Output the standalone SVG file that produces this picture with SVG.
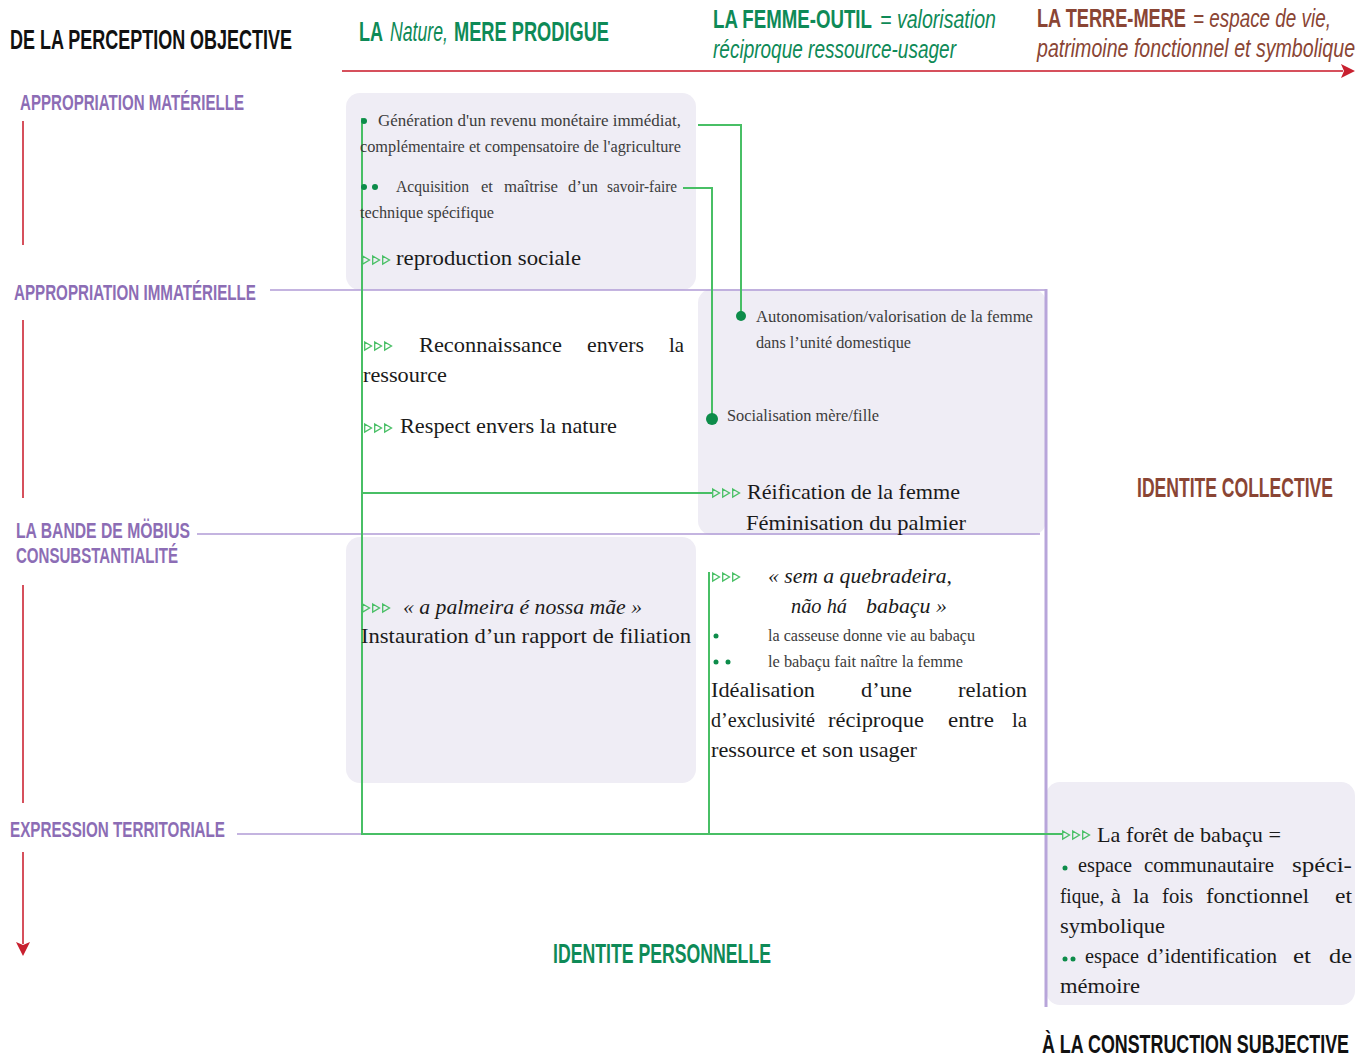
<svg xmlns="http://www.w3.org/2000/svg" width="1370" height="1059" viewBox="0 0 1370 1059">
<defs>
<style>
.hd{font-family:"Liberation Sans","DejaVu Sans",sans-serif;font-weight:bold}
.hi{font-family:"Liberation Sans","DejaVu Sans",sans-serif;font-style:italic}
.pu{fill:#8c6db5;font-size:22px}
.gr{fill:#0e8a57}
.br{fill:#8a4534}
.bk{fill:#111}
.sm{font-family:"Liberation Serif","DejaVu Serif",serif;font-size:17px;fill:#3c3c3c}
.bd{font-family:"Liberation Serif","DejaVu Serif",serif;font-size:21px;fill:#1a1a1a}
.it{font-style:italic}
.shade{fill:#efedf5}
.plin{stroke:#b09bd6;stroke-width:1.5;fill:none}
.rlin{stroke:#d6505c;stroke-width:2;fill:none}
.glin{stroke:#48bf65;stroke-width:2;fill:none}
.dot{fill:#0d8c4a}
</style>
<marker id="rarrow" viewBox="0 0 14 14" refX="2" refY="7" markerWidth="14" markerHeight="14" markerUnits="userSpaceOnUse" orient="auto">
<path d="M0,0 L14,7 L0,14 L3,7 Z" fill="#c8202f"/>
</marker>
<symbol id="tri3" viewBox="0 0 28 10" overflow="visible">
<path d="M0.7,1 L7.5,5 L0.7,9 Z M10.7,1 L17.5,5 L10.7,9 Z M20.7,1 L27.5,5 L20.7,9 Z" fill="none" stroke="#48bf65" stroke-width="1.3"/>
</symbol>
</defs>
<rect width="1370" height="1059" fill="#ffffff"/>

<g id="backgrounds">
<rect class="shade" x="346" y="93" width="350" height="197" rx="14"/>
<rect class="shade" x="698" y="289" width="348" height="246" rx="14"/>
<rect class="shade" x="346" y="537" width="350" height="246" rx="14"/>
<rect class="shade" x="1046" y="782" width="309" height="223" rx="14"/>
</g>

<g id="axes">
<line class="rlin" x1="342" y1="71" x2="1343" y2="71" marker-end="url(#rarrow)"/>
<line class="rlin" x1="23" y1="121" x2="23" y2="245"/>
<line class="rlin" x1="23" y1="320" x2="23" y2="498"/>
<line class="rlin" x1="23" y1="585" x2="23" y2="803"/>
<line class="rlin" x1="23" y1="852" x2="23" y2="944" marker-end="url(#rarrow)"/>
<line class="plin" x1="270" y1="290" x2="1046" y2="290"/>
<line class="plin" x1="197" y1="534" x2="1040" y2="534"/>
<line class="plin" x1="237" y1="834" x2="362" y2="834"/>
<line x1="1046" y1="289" x2="1046" y2="1007" stroke="#b8a5da" stroke-width="3"/>
</g>

<g id="connectors">
<path class="glin" d="M362,118 V834 H1062"/>
<path class="glin" d="M362,493 H712"/>
<path class="glin" d="M698,125 H741 V316"/>
<path class="glin" d="M683,188 H712 V419"/>
<path class="glin" d="M709,572 V834"/>
<use href="#tri3" x="362" y="255" width="28" height="10"/>
<use href="#tri3" x="364" y="341" width="28" height="10"/>
<use href="#tri3" x="364" y="423" width="28" height="10"/>
<use href="#tri3" x="712" y="488" width="28" height="10"/>
<use href="#tri3" x="362" y="603" width="28" height="10"/>
<use href="#tri3" x="712" y="572" width="28" height="10"/>
<use href="#tri3" x="1062" y="830" width="28" height="10"/>
</g>

<g id="header">
<text class="hd bk" transform="translate(10,49) scale(0.664,1)" font-size="27" textLength="424.7" lengthAdjust="spacingAndGlyphs">DE LA PERCEPTION OBJECTIVE</text>
<text class="hd gr" transform="translate(359,41) scale(0.667,1)" font-size="27" textLength="36" lengthAdjust="spacingAndGlyphs">LA</text>
<text class="hi gr" transform="translate(390,41) scale(0.655,1)" font-size="27" textLength="88.5" lengthAdjust="spacingAndGlyphs">Nature,</text>
<text class="hd gr" transform="translate(454,41) scale(0.675,1)" font-size="27" textLength="229.6" lengthAdjust="spacingAndGlyphs">MERE PRODIGUE</text>
<text class="hd gr" transform="translate(713,28) scale(0.716,1)" font-size="26" textLength="222" lengthAdjust="spacingAndGlyphs">LA FEMME-OUTIL</text>
<text class="hi gr" transform="translate(880,28) scale(0.754,1)" font-size="26" textLength="153.8" lengthAdjust="spacingAndGlyphs">= valorisation</text>
<text class="hi gr" transform="translate(713,58) scale(0.731,1)" font-size="26" textLength="332.4" lengthAdjust="spacingAndGlyphs">réciproque ressource-usager</text>
<text class="hd br" transform="translate(1037,27) scale(0.697,1)" font-size="26" textLength="213.8" lengthAdjust="spacingAndGlyphs">LA TERRE-MERE</text>
<text class="hi br" transform="translate(1193,27) scale(0.726,1)" font-size="26" textLength="190" lengthAdjust="spacingAndGlyphs">= espace de vie,</text>
<text class="hi br" transform="translate(1037,57) scale(0.754,1)" font-size="26" textLength="421.8" lengthAdjust="spacingAndGlyphs">patrimoine fonctionnel et symbolique</text>
</g>

<g id="levels">
<text class="hd pu" transform="translate(20,110) scale(0.667,1)" textLength="335.8" lengthAdjust="spacingAndGlyphs">APPROPRIATION MATÉRIELLE</text>
<text class="hd pu" transform="translate(14,300) scale(0.672,1)" textLength="360.1" lengthAdjust="spacingAndGlyphs">APPROPRIATION IMMATÉRIELLE</text>
<text class="hd pu" transform="translate(16,538) scale(0.712,1)" textLength="244.4" lengthAdjust="spacingAndGlyphs">LA BANDE DE MÖBIUS</text>
<text class="hd pu" transform="translate(16,563) scale(0.68,1)" textLength="238.2" lengthAdjust="spacingAndGlyphs">CONSUBSTANTIALITÉ</text>
<text class="hd pu" transform="translate(10,837) scale(0.69,1)" textLength="311.6" lengthAdjust="spacingAndGlyphs">EXPRESSION TERRITORIALE</text>
</g>

<g id="identities">
<text class="hd br" transform="translate(1137,497) scale(0.644,1)" font-size="27" textLength="304.3" lengthAdjust="spacingAndGlyphs">IDENTITE COLLECTIVE</text>
<text class="hd gr" transform="translate(553,963) scale(0.654,1)" font-size="27" textLength="333.3" lengthAdjust="spacingAndGlyphs">IDENTITE PERSONNELLE</text>
<text class="hd bk" transform="translate(1042,1053) scale(0.651,1)" font-size="25" textLength="471.6" lengthAdjust="spacingAndGlyphs">À LA CONSTRUCTION SUBJECTIVE</text>
</g>

<g id="node-materielle">
<circle class="dot" cx="364" cy="121" r="3"/>
<text class="sm" x="378" y="126" textLength="303" lengthAdjust="spacingAndGlyphs">Génération d'un revenu monétaire immédiat,</text>
<text class="sm" x="360" y="152" textLength="321" lengthAdjust="spacingAndGlyphs">complémentaire et compensatoire de l'agriculture</text>
<circle class="dot" cx="364" cy="187" r="3"/>
<circle class="dot" cx="375" cy="187" r="3"/>
<text class="sm" x="396" y="192" textLength="73" lengthAdjust="spacingAndGlyphs">Acquisition</text>
<text class="sm" x="481" y="192" textLength="12" lengthAdjust="spacingAndGlyphs">et</text>
<text class="sm" x="504" y="192" textLength="54" lengthAdjust="spacingAndGlyphs">maîtrise</text>
<text class="sm" x="568" y="192" textLength="30" lengthAdjust="spacingAndGlyphs">d’un</text>
<text class="sm" x="607" y="192" textLength="70" lengthAdjust="spacingAndGlyphs">savoir-faire</text>
<text class="sm" x="360" y="218" textLength="134" lengthAdjust="spacingAndGlyphs">technique spécifique</text>
<text class="bd" x="396" y="265" font-size="22" textLength="185" lengthAdjust="spacingAndGlyphs" fill="#111">reproduction sociale</text>
</g>

<g id="node-immaterielle-left">
<text class="bd" x="419" y="352" textLength="143" lengthAdjust="spacingAndGlyphs">Reconnaissance</text>
<text class="bd" x="587" y="352" textLength="57" lengthAdjust="spacingAndGlyphs">envers</text>
<text class="bd" x="669" y="352" textLength="15" lengthAdjust="spacingAndGlyphs">la</text>
<text class="bd" x="363" y="382" textLength="84" lengthAdjust="spacingAndGlyphs">ressource</text>
<text class="bd" x="400" y="433" textLength="217" lengthAdjust="spacingAndGlyphs">Respect envers la nature</text>
</g>

<g id="node-immaterielle-right">
<circle class="dot" cx="741" cy="316" r="5"/>
<text class="sm" x="756" y="322" textLength="277" lengthAdjust="spacingAndGlyphs">Autonomisation/valorisation de la femme</text>
<text class="sm" x="756" y="348" textLength="155" lengthAdjust="spacingAndGlyphs">dans l’unité domestique</text>
<circle class="dot" cx="712" cy="419" r="6"/>
<text class="sm" x="727" y="421" textLength="152" lengthAdjust="spacingAndGlyphs">Socialisation mère/fille</text>
<text class="bd" x="747" y="499" textLength="213" lengthAdjust="spacingAndGlyphs">Réification de la femme</text>
<text class="bd" x="746" y="530" textLength="220" lengthAdjust="spacingAndGlyphs">Féminisation du palmier</text>
</g>

<g id="node-mobius-left">
<text class="bd it" x="403" y="614" textLength="239" lengthAdjust="spacingAndGlyphs">« a palmeira é nossa mãe »</text>
<text class="bd" x="361" y="643" textLength="330" lengthAdjust="spacingAndGlyphs">Instauration d’un rapport de filiation</text>
</g>

<g id="node-mobius-right">
<text class="bd it" x="768" y="583" textLength="184" lengthAdjust="spacingAndGlyphs">« sem a quebradeira,</text>
<text class="bd it" x="791" y="613" textLength="56" lengthAdjust="spacingAndGlyphs">não há</text>
<text class="bd it" x="866" y="613" textLength="81" lengthAdjust="spacingAndGlyphs">babaçu »</text>
<circle class="dot" cx="716" cy="636" r="2.5"/>
<text class="sm" x="768" y="641" textLength="207" lengthAdjust="spacingAndGlyphs">la casseuse donne vie au babaçu</text>
<circle class="dot" cx="716" cy="662" r="2.5"/>
<circle class="dot" cx="728" cy="662" r="2.5"/>
<text class="sm" x="768" y="667" textLength="195" lengthAdjust="spacingAndGlyphs">le babaçu  fait naître la  femme</text>
<text class="bd" x="711" y="697" textLength="104" lengthAdjust="spacingAndGlyphs">Idéalisation</text>
<text class="bd" x="861" y="697" textLength="51" lengthAdjust="spacingAndGlyphs">d’une</text>
<text class="bd" x="958" y="697" textLength="69" lengthAdjust="spacingAndGlyphs">relation</text>
<text class="bd" x="711" y="727" textLength="104" lengthAdjust="spacingAndGlyphs">d’exclusivité</text>
<text class="bd" x="828" y="727" textLength="96" lengthAdjust="spacingAndGlyphs">réciproque</text>
<text class="bd" x="948" y="727" textLength="46" lengthAdjust="spacingAndGlyphs">entre</text>
<text class="bd" x="1012" y="727" textLength="15" lengthAdjust="spacingAndGlyphs">la</text>
<text class="bd" x="711" y="757" textLength="206" lengthAdjust="spacingAndGlyphs">ressource et son usager</text>
</g>

<g id="node-territoriale">
<text class="bd" x="1097" y="842" textLength="184" lengthAdjust="spacingAndGlyphs">La forêt de babaçu =</text>
<circle class="dot" cx="1065" cy="868" r="2.5"/>
<text class="bd" x="1078" y="872" textLength="54" lengthAdjust="spacingAndGlyphs">espace</text>
<text class="bd" x="1144" y="872" textLength="130" lengthAdjust="spacingAndGlyphs">communautaire</text>
<text class="bd" x="1292" y="872" textLength="60" lengthAdjust="spacingAndGlyphs">spéci-</text>
<text class="bd" x="1060" y="903" textLength="44" lengthAdjust="spacingAndGlyphs">fique,</text>
<text class="bd" x="1111" y="903" textLength="10" lengthAdjust="spacingAndGlyphs">à</text>
<text class="bd" x="1133" y="903" textLength="16" lengthAdjust="spacingAndGlyphs">la</text>
<text class="bd" x="1162" y="903" textLength="31" lengthAdjust="spacingAndGlyphs">fois</text>
<text class="bd" x="1206" y="903" textLength="103" lengthAdjust="spacingAndGlyphs">fonctionnel</text>
<text class="bd" x="1335" y="903" textLength="17" lengthAdjust="spacingAndGlyphs">et</text>
<text class="bd" x="1060" y="933" textLength="105" lengthAdjust="spacingAndGlyphs">symbolique</text>
<circle class="dot" cx="1065" cy="959" r="2.5"/>
<circle class="dot" cx="1073" cy="959" r="2.5"/>
<text class="bd" x="1085" y="963" textLength="54" lengthAdjust="spacingAndGlyphs">espace</text>
<text class="bd" x="1147" y="963" textLength="130" lengthAdjust="spacingAndGlyphs">d’identification</text>
<text class="bd" x="1293" y="963" textLength="18" lengthAdjust="spacingAndGlyphs">et</text>
<text class="bd" x="1329" y="963" textLength="23" lengthAdjust="spacingAndGlyphs">de</text>
<text class="bd" x="1060" y="993" textLength="80" lengthAdjust="spacingAndGlyphs">mémoire</text>
</g>
</svg>
